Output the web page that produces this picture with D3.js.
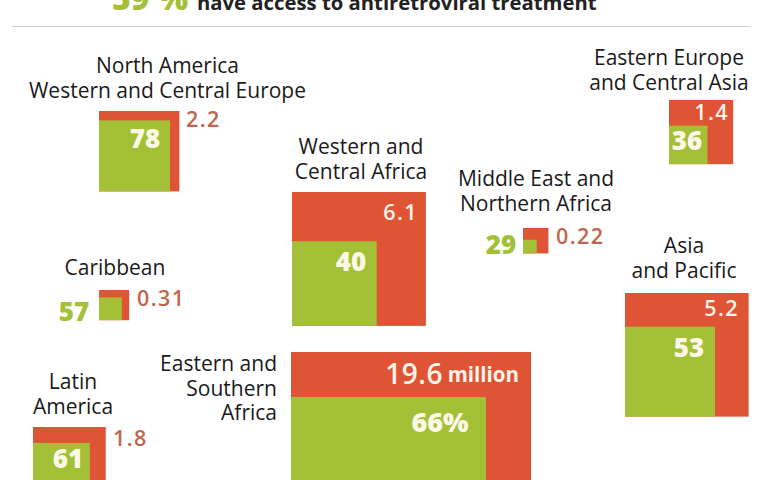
<!DOCTYPE html>
<html>
<head>
<meta charset="utf-8">
<script src="https://cdn.jsdelivr.net/npm/d3@7"></script>
<style>
  html, body { margin: 0; padding: 0; background: #fff; }
  text { font-family: "Open Sans", "Noto Sans", sans-serif; }
</style>
</head>
<body>
<svg id="chart" width="768" height="480"></svg>
<script>
// data
var regions = ['North America', 'Western Africa', 'Middle East', 'Eastern Europe', 'Asia', 'Caribbean', 'Latin America', 'Eastern Africa'];
var infected = [2.2, 6.1, 0.22, 1.4, 5.2, 0.31, 1.8, 19.6];     // millions
var treated = [78, 40, 29, 36, 53, 57, 61, 66];                  // percent
var infectedLabels = ['2.2', '6.1', '0.22', '1.4', '5.2', '0.31', '1.8', '19.6'];
var treatedLabels = ['78', '40', '29', '36', '53', '57', '61', '66%'];
var names = [
  ['North America', 'Western and Central Europe'],
  ['Western and', 'Central Africa'],
  ['Middle East and', 'Northern Africa'],
  ['Eastern Europe', 'and Central Asia'],
  ['Asia', 'and Pacific'],
  ['Caribbean'],
  ['Latin', 'America'],
  ['Eastern and', 'Southern', 'Africa']
];

var GREEN = '#a4c036', RED = '#df5434', RED_TEXT = '#c2654f';

var svg = d3.select('#chart');

// area of the square is the value
var sideOuter = d3.scaleSqrt().domain([0, 19.6]).range([0, 240]);
var shareInner = d3.scaleSqrt().domain([0, 100]).range([0, 1]);

// the map-like layout, region by region
var leftOf = d3.scaleOrdinal(regions, [99, 292, 523, 669, 625, 99, 33, 291]);
var topOf = d3.scaleOrdinal(regions, [111, 192, 228, 100, 293, 290, 427, 352]);

// header, cut off by the top of the picture
svg.append('text').attr('x', 112).attr('y', 10)
  .attr('font-size', 32).attr('font-weight', 800).attr('fill', GREEN).text('59 %');
svg.append('text').attr('x', 197).attr('y', 10)
  .attr('font-size', 20.3).attr('font-weight', 700).attr('fill', '#222')
  .text('have access to antiretroviral treatment');
svg.append('line').attr('x1', 12).attr('x2', 750).attr('y1', 26.5).attr('y2', 26.5)
  .attr('stroke', '#ccc').attr('stroke-width', 1.2);

var rows = regions.map(function(r, i) {
  var side = sideOuter(infected[i]);
  return {
    region: r,
    i: i,
    x: leftOf(r),
    y: topOf(r),
    side: side,
    inner: side * shareInner(treated[i])
  };
});

var g = svg.selectAll('g.region').data(rows).enter().append('g')
  .attr('class', 'region')
  .attr('transform', function(d) { return 'translate(' + d.x + ',' + d.y + ')'; });

g.append('rect').attr('width', function(d) { return d.side; })
  .attr('height', function(d) { return d.side; }).attr('fill', RED);
g.append('rect').attr('y', function(d) { return d.side - d.inner; })
  .attr('width', function(d) { return d.inner; })
  .attr('height', function(d) { return d.inner; }).attr('fill', GREEN);

// label placement, same order as regions
var nameX = [167.5, 361, 536, 669, 684, 115, 73, 277];
var nameY = [73, 154, 186, 65, 253, 275, 389, 371];
var nameAnchor = ['middle', 'middle', 'middle', 'middle', 'middle', 'middle', 'middle', 'end'];

rows.forEach(function(d) {
  var t = svg.append('text').attr('font-size', 21).attr('fill', '#1a1a1a')
    .attr('text-anchor', nameAnchor[d.i]);
  names[d.i].forEach(function(line, k) {
    t.append('tspan').attr('x', nameX[d.i]).attr('y', nameY[d.i] + k * 24.5).text(line);
  });
});

// numbers: [x, y, anchor]
var infectedPos = [[186, 127, 'start'], [418, 220, 'end'], [556, 244, 'start'], [729, 120, 'end'],
                   [739, 316, 'end'], [137, 306, 'start'], [113, 446, 'start'], [443, 384, 'end']];
var treatedPos = [[145, 148, 'middle'], [351, 271, 'middle'], [501, 254, 'middle'], [687, 150, 'middle'],
                  [689, 357, 'middle'], [74, 321, 'middle'], [68, 468, 'middle'], [440, 432, 'middle']];
var infectedInside = [false, true, false, true, true, false, false, true];
var treatedInside = [true, true, false, true, true, false, true, true];

rows.forEach(function(d) {
  var p = infectedPos[d.i], q = treatedPos[d.i];
  svg.append('text').attr('x', p[0]).attr('y', p[1]).attr('text-anchor', p[2])
    .attr('font-size', d.i === 7 ? 28 : 21.5).attr('font-weight', 600)
    .attr('letter-spacing', d.i === 7 ? 0.5 : 1.4)
    .attr('fill', infectedInside[d.i] ? '#fbf3ea' : RED_TEXT)
    .text(infectedLabels[d.i]);
  svg.append('text').attr('x', q[0]).attr('y', q[1]).attr('text-anchor', q[2])
    .attr('font-size', d.i === 7 ? 27 : 26).attr('font-weight', 800)
    .attr('fill', treatedInside[d.i] ? '#fbf8e8' : GREEN)
    .text(treatedLabels[d.i]);
});

svg.append('text').attr('x', 519).attr('y', 382).attr('text-anchor', 'end')
  .attr('font-size', 20.5).attr('font-weight', 700).attr('fill', '#fbf3ea').text('million');
</script>
</body>
</html>
